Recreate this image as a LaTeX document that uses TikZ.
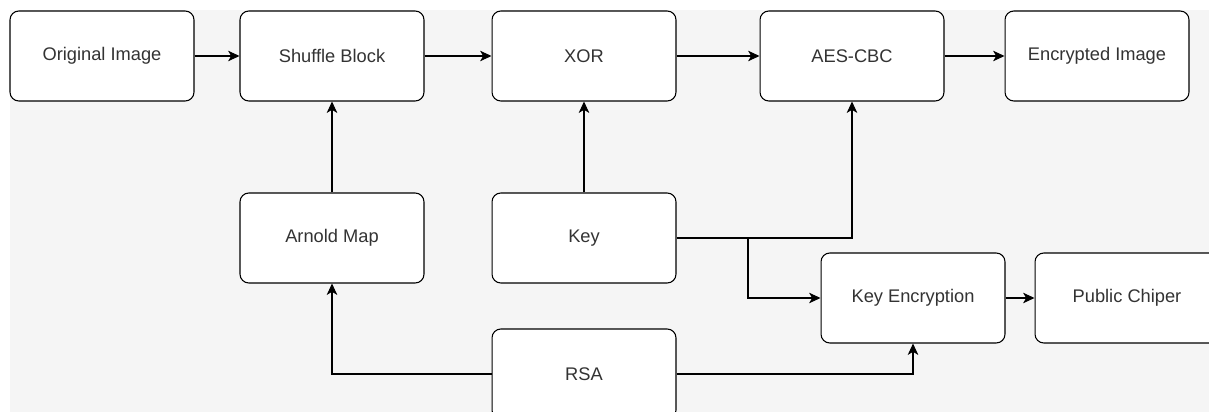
\documentclass[tikz,border=0pt]{standalone}
\usepackage{fontspec}
\setmainfont{Liberation Sans}
\usetikzlibrary{arrows.meta, positioning}
\definecolor{canvas}{HTML}{F5F5F5}
\definecolor{textgray}{HTML}{333333}

\begin{document}
\begin{tikzpicture}[x=0.02cm, y=-0.02cm, >={Stealth[length=6.5pt, width=6pt, inset=1.8pt]}]
\tikzstyle{block}=[draw, rectangle, rounded corners=5pt, fill=white, line width=0.6pt,
  minimum width=3.68cm, minimum height=1.8cm, text=textgray, font=\fontsize{10.4}{12}\selectfont]
\tikzstyle{flow}=[->, line width=0.6pt]

\useasboundingbox (0,0) rectangle (1209,412);
\clip (0,0) rectangle (1209,412);
\fill[white] (0,0) rectangle (1209,412);
\fill[canvas] (10,10) rectangle (1209,412);

% top row
\node[block] (original) at (102,56) {Original Image};
\node[block] (shuffle) at (332,56) {Shuffle Block};
\node[block] (xor) at (584,56) {XOR};
\node[block] (aes) at (852,56) {AES-CBC};
\node[block] (encrypted) at (1097,56) {Encrypted Image};

% key material
\node[block] (arnold) at (332,238) {Arnold Map};
\node[block] (key) at (584,238) {Key};
\node[block] (rsa) at (584,374) {RSA};
\node[block] (keyenc) at (913,298) {Key Encryption};
\node[block] (public) at (1127,298) {Public Chiper};
\coordinate (split) at (748,238);

\draw[flow] (original) -- (shuffle);
\draw[flow] (shuffle) -- (xor);
\draw[flow] (xor) -- (aes);
\draw[flow] (aes) -- (encrypted);
\draw[flow] (arnold) -- (shuffle);
\draw[flow] (key) -- (xor);
\draw[flow] (key.east) -| (aes.south);
\draw[flow] (split) |- (keyenc.west);
\draw[flow] (rsa.west) -| (arnold.south);
\draw[flow] (rsa.east) -| (keyenc.south);
\draw[flow] (keyenc) -- (public);
\end{tikzpicture}
\end{document}
